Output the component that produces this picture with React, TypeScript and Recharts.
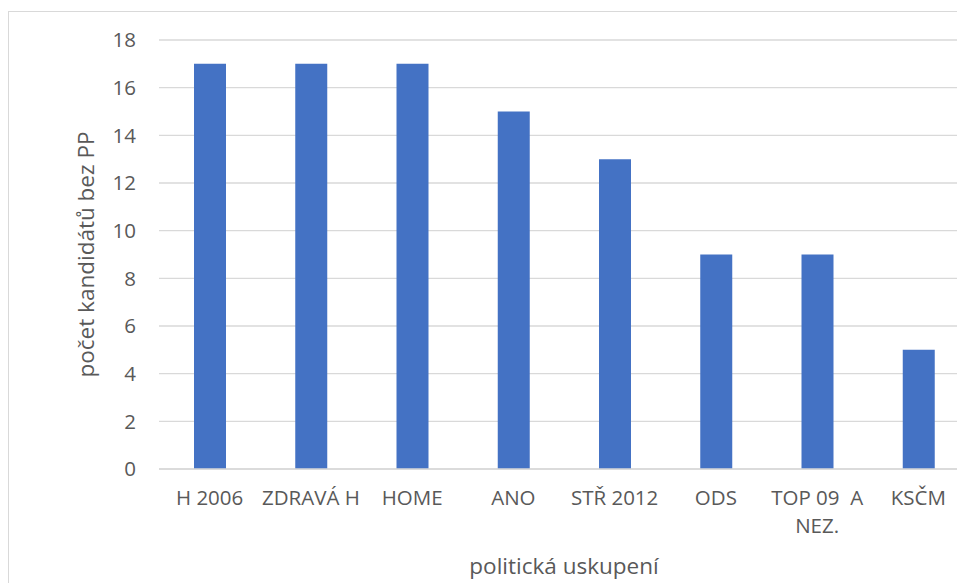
import React from "react";
import { BarChart, Bar, XAxis, YAxis, CartesianGrid, Label } from "recharts";

const parties = ["H 2006", "ZDRAVÁ H", "HOME", "ANO", "STŘ 2012", "ODS", "TOP 09  A\nNEZ.", "KSČM"];
const candidates = [17, 17, 17, 15, 13, 9, 9, 5];
const yTicks = [0, 2, 4, 6, 8, 10, 12, 14, 16, 18];

const FONT = "'Open Sans', 'Noto Sans', sans-serif";
const TEXT = "#595959";
const GRID = "#d9d9d9";

const chartData = parties.map((name, i) => ({ name, value: candidates[i] }));

function PartyTick({ x, y, payload }: any) {
  const lines = String(payload.value).split("\n");
  return (
    <text
      x={x}
      y={y + 31}
      textAnchor="middle"
      fill={TEXT}
      fontSize={20.5}
      fontFamily={FONT}
      style={{ whiteSpace: "pre" }}
    >
      {lines.map((line, i) => (
        <tspan key={i} x={x} dy={i === 0 ? 0 : 28} dominantBaseline="middle">
          {line}
        </tspan>
      ))}
    </text>
  );
}

function YTitle({ viewBox }: any) {
  const cx = 79;
  const cy = viewBox.y + viewBox.height / 2;
  return (
    <text
      x={cx}
      y={cy}
      transform={`rotate(-90 ${cx} ${cy})`}
      textAnchor="middle"
      dominantBaseline="middle"
      fill={TEXT}
      fontSize={22.5}
      fontFamily={FONT}
    >
      počet kandidátů bez PP
    </text>
  );
}

export default function App() {
  return (
    <div style={{ position: "fixed", left: 0, top: 0, width: 957, height: 583, overflow: "hidden", background: "#fff" }}>
      <div
        style={{
          position: "absolute",
          left: 8,
          top: 11,
          width: 1000,
          height: 620,
          border: `1px solid ${GRID}`,
          background: "#fff",
        }}
      >
        <BarChart
          width={980}
          height={600}
          data={chartData}
          margin={{ top: 28, right: 20, bottom: 83, left: 90 }}
        >
          <CartesianGrid vertical={false} stroke={GRID} strokeWidth={1.3} />
          <XAxis
            dataKey="name"
            interval={0}
            tickLine={false}
            tickSize={0}
            tickMargin={0}
            height={60}
            axisLine={{ stroke: GRID, strokeWidth: 1.3 }}
            tick={<PartyTick />}
          >
            <Label
              value="politická uskupení"
              position="bottom"
              offset={0}
              content={({ viewBox }: any) => (
                <text
                  x={viewBox.x + viewBox.width / 2}
                  y={556}
                  textAnchor="middle"
                  dominantBaseline="middle"
                  fill={TEXT}
                  fontSize={22.5}
                  fontFamily={FONT}
                >
                  politická uskupení
                </text>
              )}
            />
          </XAxis>
          <YAxis
            width={60}
            domain={[0, 18]}
            ticks={yTicks}
            interval={0}
            axisLine={false}
            tickLine={false}
            tickSize={0}
            tickMargin={23}
            tick={{ fill: TEXT, fontSize: 20.5, fontFamily: FONT }}
          >
            <Label content={<YTitle />} />
          </YAxis>
          <Bar dataKey="value" fill="#4472C4" barSize={32} isAnimationActive={false} />
        </BarChart>
      </div>
    </div>
  );
}
